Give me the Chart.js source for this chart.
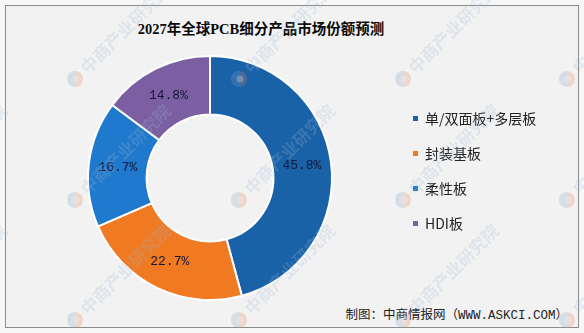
<!DOCTYPE html>
<html>
<head>
<meta charset="utf-8">
<script src="https://cdn.jsdelivr.net/npm/chart.js@4.4.1/dist/chart.umd.min.js"></script>
<style>
  html, body { margin: 0; padding: 0; width: 584px; height: 333px; overflow: hidden; background: #f7f7f7; }
  #frame { position: absolute; left: 5px; top: 5px; width: 572px; height: 321px; border: 1px solid #8c8c8c; background: #f2f2f2; }
  #title { position: absolute; left: 0; top: 17px; width: 522px; line-height: 20px; text-align: center;
           font: bold 14.5px "Liberation Serif", "Noto Sans CJK SC", serif; color: #0a0a0a; }
  #source { position: absolute; right: 16px; top: 304px; line-height: 18px;
            font: 12.5px "Liberation Mono", "Noto Sans CJK SC", monospace; color: #222; }
  #chart { position: absolute; left: 0; top: 0; }
</style>
</head>
<body>
<div id="frame"></div>
<div id="title">2027年全球PCB细分产品市场份额预测</div>
<div id="source">制图：中商情报网（WWW.ASKCI.COM）</div>
<canvas id="chart" width="584" height="333"></canvas>
<script>
// market share by product type, percent
const categories = ['单/双面板+多层板', '封装基板', '柔性板', 'HDI板'];
const shares = [45.8, 22.7, 16.7, 14.8];
const sliceColors = ['#1a62a8', '#f07a22', '#1f79cc', '#7b5fa2'];
const watermarkText = '中商产业研究院';

// percentage text in the middle of each ring segment
const sliceLabels = {
    id: 'sliceLabels',
    afterDatasetsDraw(chart) {
        const ctx = chart.ctx;
        const meta = chart.getDatasetMeta(0);
        ctx.save();
        ctx.font = '13px "Liberation Mono", "DejaVu Sans Mono", monospace';
        ctx.fillStyle = '#15173a';
        ctx.textAlign = 'center';
        ctx.textBaseline = 'middle';
        meta.data.forEach(function (arc, i) {
            const p = arc.tooltipPosition();
            ctx.fillText(shares[i].toFixed(1) + '%', p.x, p.y);
        });
        ctx.restore();
    }
};

// faint diagonal brand marks over the whole picture
const watermark = {
    id: 'watermark',
    afterDraw(chart) {
        const ctx = chart.ctx;
        const xs = [-89, 75, 239, 403, 567];
        const ys = [79, 200, 320];
        ctx.save();
        ys.forEach(function (y) {
            xs.forEach(function (x) {
                ctx.save();
                ctx.translate(x, y);
                ctx.globalAlpha = 0.25;
                ctx.fillStyle = '#7fa3c6';
                ctx.beginPath();
                ctx.arc(0, 0, 8, Math.PI * 0.5, Math.PI * 1.5);
                ctx.fill();
                ctx.fillStyle = '#e8825c';
                ctx.beginPath();
                ctx.arc(0, 0, 8, -Math.PI * 0.5, Math.PI * 0.5);
                ctx.fill();
                ctx.fillStyle = '#f2f2f2';
                ctx.beginPath();
                ctx.arc(1, 0, 3.5, 0, Math.PI * 2);
                ctx.fill();
                ctx.rotate(-Math.PI / 4);
                ctx.globalAlpha = 0.24;
                ctx.fillStyle = '#9ab8d6';
                ctx.font = 'bold 17px "Noto Sans CJK SC", sans-serif';
                ctx.textBaseline = 'middle';
                ctx.fillText(watermarkText, 12, 0);
                ctx.restore();
            });
        });
        ctx.restore();
    }
};

// fixed legend column width, and nudge it up a little
const legendBox = {
    id: 'legendBox',
    beforeInit(chart) {
        const fit = chart.legend.fit;
        chart.legend.fit = function () {
            fit.bind(chart.legend)();
            this.width = 192;
        };
    },
    afterLayout(chart) {
        chart.legend.top -= 7;
        chart.legend.bottom -= 7;
    }
};

const ctx = document.getElementById('chart').getContext('2d');
const chart = new Chart(ctx, {
    type: 'doughnut',
    data: {
        labels: categories,
        datasets: [{
            data: shares,
            backgroundColor: sliceColors,
            borderColor: '#ffffff',
            borderWidth: 2
        }]
    },
    options: {
        responsive: false,
        animation: false,
        cutout: '52%',
        layout: { padding: { left: 28, top: 55, bottom: 32, right: 0 } },
        plugins: {
            tooltip: { enabled: false },
            legend: {
                position: 'right',
                align: 'center',
                labels: {
                    boxWidth: 5,
                    boxHeight: 5,
                    padding: 21,
                    color: '#222222',
                    font: { family: '"Noto Sans CJK SC", sans-serif', size: 14 },
                    generateLabels(chart) {
                        const items = Chart.overrides.doughnut.plugins.legend.labels.generateLabels(chart);
                        items.forEach(function (item) { item.lineWidth = 0; });
                        return items;
                    }
                }
            }
        }
    },
    plugins: [sliceLabels, watermark, legendBox]
});
</script>
</body>
</html>
